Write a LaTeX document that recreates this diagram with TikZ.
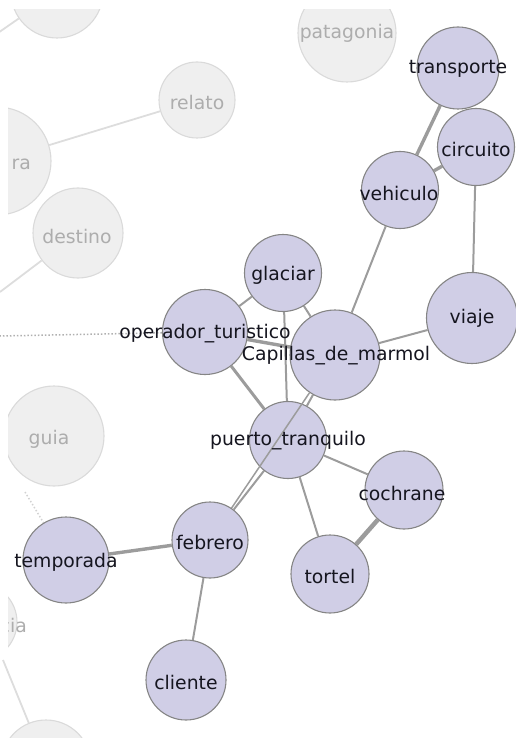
\documentclass[tikz,border=0pt]{standalone}
\usepackage{fontspec}
\setmainfont{DejaVu Sans}
\definecolor{pfill}{HTML}{D0CEE6}
\definecolor{pborder}{HTML}{858585}
\definecolor{gfill}{HTML}{EFEFEF}
\definecolor{gborder}{HTML}{DADADA}
\definecolor{gtext}{HTML}{ADADAD}
\definecolor{dtext}{HTML}{15151F}
\definecolor{lnkcol}{HTML}{9C9C9C}
\definecolor{glnk}{HTML}{DDDDDD}
\pgfdeclarelayer{bg}
\pgfdeclarelayer{fg}
\pgfsetlayers{bg,main,fg}
\begin{document}
\begin{tikzpicture}[x=1pt,y=-1pt,
  pnode/.style={circle, draw=pborder, fill=pfill, line width=1.1pt, inner sep=0pt, minimum size=#1},
  gnode/.style={circle, draw=gborder, fill=gfill, line width=1.1pt, inner sep=0pt, minimum size=#1},
  ptext/.style={text=dtext, font=\fontsize{18.8}{20}\selectfont, inner sep=0pt},
  gtxt/.style={text=gtext, font=\fontsize{18.8}{20}\selectfont, inner sep=0pt},
  lnk/.style={draw=lnkcol, line width=2pt},
  lnkthick/.style={draw=lnkcol, line width=3.4pt},
  glink/.style={draw=glnk, line width=1.8pt},
  gdot/.style={draw=lnkcol!80, line width=1.5pt, dotted}
]
\useasboundingbox (0,0) rectangle (516,738);
\begin{scope}
\clip (8,10) rectangle (516,738);
% ---------- gray (faded) nodes ----------
\node[gnode=92] (tl) at (57,-8) {};
\node[gnode=76] (relato) at (197,100) {};
\node[gnode=108] (ra) at (-3,161) {};
\node[gnode=90] (destino) at (78,233) {};
\node[gnode=98] (patagonia) at (347,33) {};
\node[gnode=100] (guia) at (54,436) {};
\node[gnode=78] (cia) at (-22,622) {};
\node[gnode=90] (bot) at (46,765) {};
\coordinate (tlend) at (-5,35);
\coordinate (destend) at (0,292);
\coordinate (dotend) at (0,336);
\coordinate (botend) at (3,660);
\coordinate (guiadot) at (25,492);
% ---------- purple nodes ----------
\node[pnode=82] (transporte) at (458,68) {};
\node[pnode=77] (circuito) at (476,147) {};
\node[pnode=77] (vehiculo) at (400,190) {};
\node[pnode=77] (glaciar) at (283,273) {};
\node[pnode=85] (operador) at (205,332) {};
\node[pnode=90] (capillas) at (335,355) {};
\node[pnode=91] (viaje) at (472,318) {};
\node[pnode=77] (puerto) at (288,440) {};
\node[pnode=78] (cochrane) at (404,490) {};
\node[pnode=78] (tortel) at (330,574) {};
\node[pnode=76] (febrero) at (210,540) {};
\node[pnode=86] (temporada) at (66,560) {};
\node[pnode=80] (cliente) at (186,680) {};
% ---------- links (behind nodes) ----------
\begin{pgfonlayer}{bg}
\draw[glink] (tl) -- (tlend);
\draw[glink] (relato) -- (ra);
\draw[glink] (destino) -- (destend);
\draw[glink] (bot) -- (botend);
\draw[gdot] (operador) -- (dotend);
\draw[gdot, draw=lnkcol!45] (guiadot) -- (temporada);
\draw[lnkthick] (transporte) -- (vehiculo);
\draw[lnkthick] (circuito) -- (vehiculo);
\draw[lnk] (circuito) -- (viaje);
\draw[lnk] (vehiculo) -- (capillas);
\draw[lnk] (viaje) -- (capillas);
\draw[lnk] (glaciar) -- (operador);
\draw[lnk] (glaciar) -- (capillas);
\draw[lnk] (glaciar) -- (puerto);
\draw[lnkthick] (operador) -- (capillas);
\draw[lnkthick, line width=3pt] (operador) -- (puerto);
\draw[lnk] (capillas) -- (puerto);
\draw[lnk] (puerto) -- (cochrane);
\draw[lnk] (puerto) -- (tortel);
\draw[lnkthick, line width=4.5pt] (cochrane) -- (tortel);
\draw[lnkthick] (febrero) -- (temporada);
\draw[lnk] (febrero) -- (cliente);
\draw[lnk] (puerto) -- (febrero);
\end{pgfonlayer}
% link drawn over puerto_tranquilo
\begin{pgfonlayer}{fg}
\draw[lnk, line width=1.5pt] (capillas) -- (febrero);
\end{pgfonlayer}
\end{scope}
% ---------- texts ----------
\begin{pgfonlayer}{fg}
\begin{scope}
\clip (8,10) rectangle (516,738);
\node[gtxt] (t-relato) at (197,102) {relato};
\node[gtxt, anchor=east] (t-ra) at (31,164) {ra};
\node[gtxt] (t-destino) at (77,236) {destino};
\node[gtxt] (t-patagonia) at (347,33) {patagonia};
\node[gtxt] (t-guia) at (49,439) {guia};
\node[gtxt, anchor=east] (t-cia) at (27,625) {cia};
\node[ptext] (t-transporte) at (458,69) {transporte};
\node[ptext] (t-circuito) at (476,149) {circuito};
\node[ptext] (t-vehiculo) at (399,193) {vehiculo};
\node[ptext] (t-glaciar) at (283,275) {glaciar};
\node[ptext] (t-operador) at (205,334) {operador\_turistico};
\node[ptext] (t-capillas) at (336,356) {Capillas\_de\_marmol};
\node[ptext] (t-viaje) at (472,318) {viaje};
\node[ptext] (t-puerto) at (288,441) {puerto\_tranquilo};
\node[ptext] (t-cochrane) at (402,493) {cochrane};
\node[ptext] (t-tortel) at (330,576) {tortel};
\node[ptext] (t-febrero) at (210,542) {febrero};
\node[ptext] (t-temporada) at (66,562) {temporada};
\node[ptext] (t-cliente) at (186,682) {cliente};
\end{scope}
\end{pgfonlayer}
\end{tikzpicture}
\end{document}
